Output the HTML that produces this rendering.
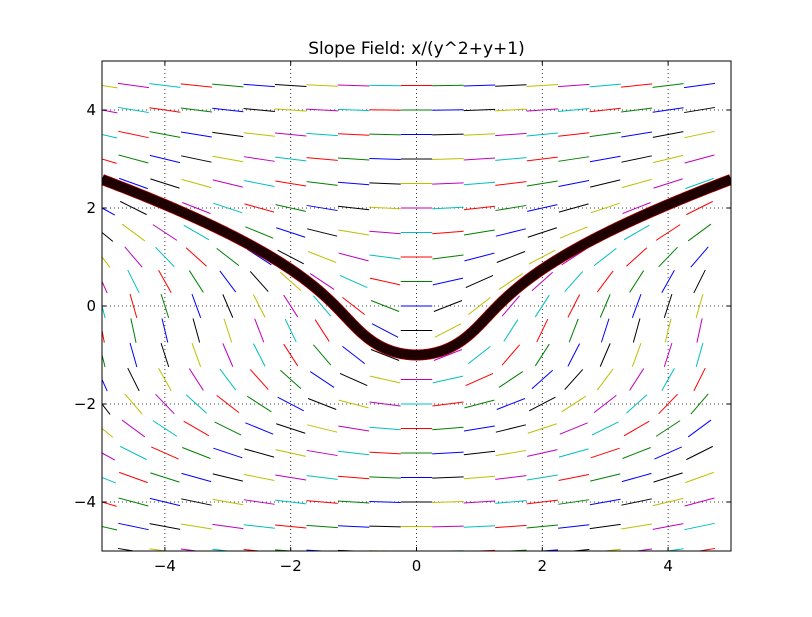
<!DOCTYPE html>
<html><head><meta charset="utf-8"><style>
body{margin:0;background:#fff;}
svg text{font-family:"DejaVu Sans","Liberation Sans",sans-serif;}
</style></head><body>
<svg id="chart" width="812" height="612" xmlns="http://www.w3.org/2000/svg">
<rect width="812" height="612" fill="#fff"/>
<defs><clipPath id="clip"><rect x="102" y="61" width="629" height="490"/></clipPath></defs>
<text x="416.5" y="54" font-size="17" text-anchor="middle">Slope Field: x/(y^2+y+1)</text>
<g id="grid"></g>
<g id="field" clip-path="url(#clip)"></g>
<g id="curve" clip-path="url(#clip)"></g>
<rect x="102" y="61" width="629" height="490" fill="none" stroke="#000" stroke-width="1"/>
<g id="ticks"></g>
</svg>
<script>
const xTicks = [-4, -2, 0, 2, 4];
const yTicks = [-4, -2, 0, 2, 4];
const gridStart = -5, gridStep = 0.5, gridCount = 20;
const colors = ['#0000ff', '#008000', '#ff0000', '#00bfbf', '#bf00bf', '#bfbf00', '#000000'];
const segLen = 0.5;
const x0 = 0, y0 = -1; // initial condition of solution curve

const NS = 'http://www.w3.org/2000/svg';
const X = v => 416.5 + v * 62.9;
const Y = v => 306 - v * 49;
function mk(tag, attrs, parent) {
  const e = document.createElementNS(NS, tag);
  for (const k in attrs) e.setAttribute(k, attrs[k]);
  parent.appendChild(e);
  return e;
}
const grid = document.getElementById('grid'), field = document.getElementById('field'),
      curve = document.getElementById('curve'), ticks = document.getElementById('ticks');

xTicks.forEach(t => {
  const l = mk('line', {x1: X(t), x2: X(t), y1: 61, y2: 551, stroke: '#000', 'stroke-width': 0.8, 'stroke-dasharray': '1,3'}, grid);
  
  
  mk('line', {x1: X(t), x2: X(t), y1: 551, y2: 547, stroke: '#000'}, ticks);
  mk('line', {x1: X(t), x2: X(t), y1: 61, y2: 65, stroke: '#000'}, ticks);
  const tx = mk('text', {x: X(t), y: 571, 'font-size': 15, 'text-anchor': 'middle'}, ticks);
  tx.textContent = t < 0 ? '\u2212' + Math.abs(t) : String(t);
  
  
});
yTicks.forEach(t => {
  const l = mk('line', {x1: 102, x2: 731, y1: Y(t), y2: Y(t), stroke: '#000', 'stroke-width': 0.8, 'stroke-dasharray': '1,3'}, grid);
  
  
  mk('line', {x1: 102, x2: 106, y1: Y(t), y2: Y(t), stroke: '#000'}, ticks);
  mk('line', {x1: 731, x2: 727, y1: Y(t), y2: Y(t), stroke: '#000'}, ticks);
  const tx = mk('text', {x: 96, y: Y(t) + 5, 'font-size': 15, 'text-anchor': 'end'}, ticks);
  tx.textContent = t < 0 ? '\u2212' + Math.abs(t) : String(t);
  
  
});

const slope = (x, y) => x / (y * y + y + 1);
for (let i = 0; i < gridCount; i++) {
  for (let j = 0; j < gridCount; j++) {
    const x = gridStart + i * gridStep, y = gridStart + j * gridStep;
    const m = slope(x, y);
    const d = segLen / 2 / Math.sqrt(1 + m * m);
    const c = colors[(((j - i) % 7) + 7) % 7];
    const s = mk('line', {x1: X(x - d), y1: Y(y - m * d), x2: X(x + d), y2: Y(y + m * d), stroke: c, 'stroke-width': 1}, field);
    
    
  }
}

// solution curve: y^3/3 + y^2/2 + y = x^2/2 + C
const C = y0 ** 3 / 3 + y0 ** 2 / 2 + y0 - x0 * x0 / 2;
function solveY(x) {
  const rhs = x * x / 2 + C;
  let lo = -5, hi = 10;
  for (let k = 0; k < 60; k++) {
    const mid = (lo + hi) / 2;
    const f = mid ** 3 / 3 + mid ** 2 / 2 + mid;
    if (f < rhs) lo = mid; else hi = mid;
  }
  return (lo + hi) / 2;
}
let pts = [];
for (let x = -5; x <= 5.0001; x += 0.02) pts.push(X(x).toFixed(2) + ',' + Y(solveY(x)).toFixed(2));
const p1 = mk('polyline', {points: pts.join(' '), fill: 'none', stroke: '#b00000', 'stroke-width': 11, 'stroke-linejoin': 'round'}, curve);


const p2 = mk('polyline', {points: pts.join(' '), fill: 'none', stroke: '#1e0000', 'stroke-width': 9.5, 'stroke-linejoin': 'round'}, curve);


</script>
</body></html>
